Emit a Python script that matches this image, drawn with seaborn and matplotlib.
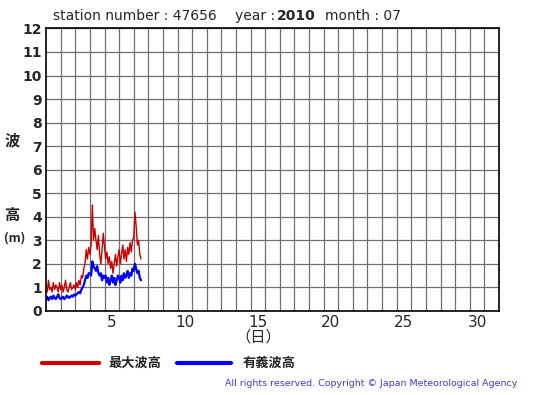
import numpy as np
import pandas as pd
import matplotlib.pyplot as plt
import seaborn as sb

# 2-hourly readings, July 1 00h -> July 7 12h
max_wave = [1.1, 0.8, 1.3, 0.9, 1.0, 0.8, 1.2, 0.9, 1.1, 1.0, 0.8, 1.2,
            0.9, 1.1, 0.8, 1.0, 1.3, 0.9, 0.8, 1.0, 1.2, 0.9, 1.0, 1.1,
            0.9, 1.2, 1.0, 1.3, 1.1, 1.5, 1.4, 1.8, 2.0, 2.6, 2.2, 2.7,
            2.4, 2.8, 4.5, 3.0, 3.5, 3.0, 2.6, 3.2, 2.4, 2.0, 2.6, 3.3,
            2.7, 2.2, 2.5, 2.0, 2.3, 1.8, 2.1, 1.6, 2.0, 2.4, 1.9, 2.3,
            2.6, 2.0, 2.4, 2.8, 2.2, 2.6, 2.1, 2.7, 2.4, 2.9, 2.5, 3.0,
            3.1, 4.2, 3.6, 2.8, 3.0, 2.4, 2.2]
sig_wave = [0.5, 0.6, 0.45, 0.55, 0.6, 0.5, 0.65, 0.55, 0.5, 0.6, 0.7, 0.55,
            0.5, 0.55, 0.6, 0.5, 0.55, 0.65, 0.6, 0.55, 0.6, 0.65, 0.6, 0.7,
            0.65, 0.7, 0.75, 0.8, 0.75, 0.9, 1.0, 1.1, 1.3, 1.5, 1.4, 1.6,
            1.6, 1.5, 2.1, 1.9, 1.8, 1.7, 1.9, 1.6, 1.5, 1.6, 1.3, 1.5,
            1.4, 1.5, 1.2, 1.4, 1.1, 1.3, 1.5, 1.2, 1.4, 1.1, 1.3, 1.5,
            1.4, 1.2, 1.5, 1.3, 1.6, 1.4, 1.5, 1.7, 1.4, 1.6, 1.5, 1.8,
            1.7, 2.0, 1.8, 1.6, 1.7, 1.4, 1.3]
days = [1 + i / 12 for i in range(len(max_wave))]
day_labels = ['5', '10', '15', '20', '25', '30']
y_ticks = list(range(0, 13))

df = pd.DataFrame({
    'day': days * 2,
    'height': max_wave + sig_wave,
    'kind': ['最大波高'] * len(days) + ['有義波高'] * len(days)
})

sb.set_style('white')
plt.rcParams['font.family'] = ['DejaVu Sans', 'Noto Sans CJK JP']
jp = ['Noto Sans CJK JP', 'DejaVu Sans']

fig = plt.figure(figsize=(5.55, 3.95), dpi=100)
ax = fig.add_axes([0.083, 0.213, 0.816, 0.715])

sb.lineplot(data=df, x='day', y='height', hue='kind',
            palette={'最大波高': '#cc0000', '有義波高': '#0000ff'},
            linewidth=1.0, legend=False, ax=ax)
ax.lines[1].set_linewidth(1.6)

ax.set_xlim(1, 32)
ax.set_ylim(0, 12)
ax.set_xticks(np.arange(2, 33), minor=True)
ax.set_xticks([int(d) + 0.5 for d in day_labels])
ax.set_xticklabels(day_labels, fontsize=11)
ax.set_yticks(y_ticks)
ax.set_yticklabels([str(v) for v in y_ticks], fontsize=10, fontweight='bold')
ax.tick_params(axis='both', which='both', length=0, pad=3)
ax.grid(False)
ax.grid(True, which='minor', axis='x', color='#707070', linewidth=0.9)
ax.grid(True, which='major', axis='y', color='#707070', linewidth=0.9)
for s in ax.spines.values():
    s.set_color('black')
    s.set_linewidth(1.2)
ax.set_xlabel('')
ax.set_ylabel('')

# titles
ty = 1 - 16 / 395
fig.text(53 / 555, ty, 'station number : 47656', fontsize=10, va='center')
fig.text(235 / 555, ty, 'year :', fontsize=10, va='center')
fig.text(277 / 555, ty, '2010', fontsize=10, fontweight='bold', va='center')
fig.text(325 / 555, ty, 'month : 07', fontsize=10, va='center')

# axis labels
fig.text(12 / 555, 1 - 140 / 395, '波', fontsize=11, fontweight='bold', family=jp, ha='center', va='center')
fig.text(12 / 555, 1 - 215 / 395, '高', fontsize=11, fontweight='bold', family=jp, ha='center', va='center')
fig.text(15 / 555, 1 - 238 / 395, '(m)', fontsize=9, fontweight='bold', family=jp, ha='center', va='center')
fig.text(258 / 555, 1 - 337 / 395, '（日）', fontsize=11, family=jp, ha='center', va='center')

# legend
fig.add_artist(plt.Line2D([42 / 555, 99 / 555], [1 - 363 / 395] * 2, color='#cc0000', linewidth=3))
fig.text(108 / 555, 1 - 363 / 395, '最大波高', fontsize=9.5, fontweight='bold', family=jp, va='center')
fig.add_artist(plt.Line2D([177 / 555, 231 / 555], [1 - 363 / 395] * 2, color='#0000ff', linewidth=3))
fig.text(243 / 555, 1 - 363 / 395, '有義波高', fontsize=9.5, fontweight='bold', family=jp, va='center')

fig.text(517 / 555, 1 - 384 / 395, 'All rights reserved. Copyright © Japan Meteorological Agency',
         fontsize=6.8, color='#4040d0', ha='right', va='center')

fig.savefig('out.png', dpi=100)
